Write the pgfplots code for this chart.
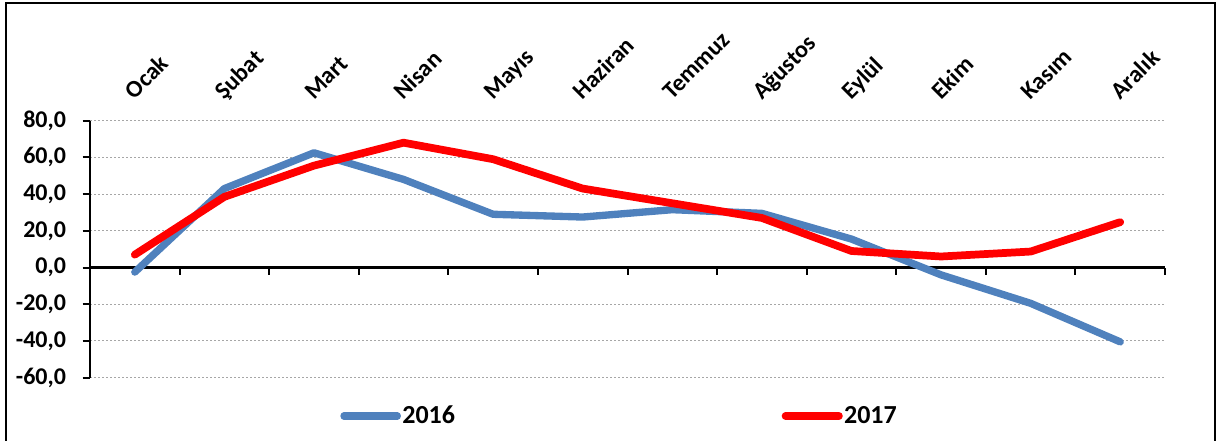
\documentclass[border=0pt]{standalone}
\usepackage{fontspec}
\setmainfont{Carlito}
\usepackage{pgfplots}
\pgfplotsset{compat=1.18}
\definecolor{blu}{HTML}{4F81BD}
\definecolor{grd}{HTML}{A6A6A6}
\begin{document}
\begin{tikzpicture}
\path[use as bounding box] (0,0) rectangle (912.75pt,330.75pt);
\draw[line width=1.5pt] (4.5pt,-20pt) -- (4.5pt,328.5pt) -- (911.25pt,328.5pt) -- (911.25pt,-20pt);
\begin{axis}[
  at={(67.5pt,47.5pt)}, anchor=south west,
  scale only axis, width=806.25pt, height=192.75pt,
  xmin=-0.5, xmax=11.5, ymin=-60, ymax=80,
  axis y line=left, axis x line=middle,
  every inner x axis line/.append style={-},
  every outer y axis line/.append style={-},
  every outer x axis line/.append style={-},
  every inner y axis line/.append style={-},
  axis line style={line width=1.6pt, black},
  xtick={0.5,1.5,...,11.5}, xticklabels={},
  ytick={-60,-40,...,80},
  major tick length=5.5pt,
  tick style={line width=1.5pt, black},
  xtick align=outside, ytick align=outside,
  ymajorgrids,
  grid style={dash pattern=on 1.5pt off 1.5pt, grd, line width=0.7pt},
  /pgf/number format/assume math mode=true,
  yticklabel={\pgfmathprintnumber[fixed, fixed zerofill, precision=1, use comma]{\tick}},
  yticklabel style={font=\fontsize{18}{20}\selectfont\bfseries, xshift=-9pt},
  legend columns=2,
  legend style={at={(0.2326,-0.149)}, anchor=west, draw=none, fill=none,
    font=\fontsize{19.5}{21}\selectfont\bfseries, inner sep=0pt,
    nodes={inner sep=1pt},
    /tikz/every even column/.append style={column sep=244pt}},
  legend image code/.code={\draw[#1] (0pt,0pt) -- (40pt,0pt);},
  clip=false,
]
\addplot[blu, line width=5.5pt, line cap=round, line join=round] coordinates {
(0,-2.5) (1,43) (2,62.5) (3,48) (4,29) (5,27.5) (6,31.5) (7,29.5) (8,15.5) (9,-4) (10,-19.5) (11,-40.5)};
\addlegendentry{2016}
\addplot[red, line width=5.8pt, line cap=round, line join=round] coordinates {
(0,7) (1,38.5) (2,55.5) (3,68) (4,59) (5,43) (6,35) (7,27) (8,9) (9,6) (10,8.7) (11,24.7)};
\addlegendentry{2017}
\end{axis}
\begin{axis}[
  at={(67.5pt,47.5pt)}, anchor=south west,
  scale only axis, width=806.25pt, height=192.75pt,
  xmin=-0.5, xmax=11.5, ymin=-60, ymax=80,
  hide y axis, axis x line*=top, x axis line style={draw=none},
  xtick={0,...,11},
  xticklabels={Ocak,Şubat,Mart,Nisan,Mayıs,Haziran,Temmuz,Ağustos,Eylül,Ekim,Kasım,Aralık},
  major tick length=0pt,
  xticklabel shift=15pt,
  every x tick label/.style={font=\fontsize{18}{20}\selectfont\bfseries, inner sep=0pt, rotate=45, anchor=base west},
]
\addplot[draw=none] coordinates {(0,0)};
\end{axis}
\end{tikzpicture}
\end{document}
